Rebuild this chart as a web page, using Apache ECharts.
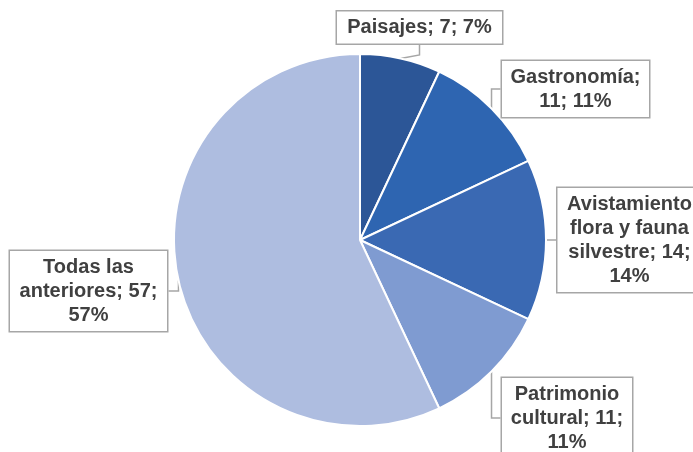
<!DOCTYPE html>
<html>
<head>
<meta charset="utf-8">
<script src="https://cdn.jsdelivr.net/npm/echarts@6/dist/echarts.min.js"></script>
<style>
html,body{margin:0;padding:0;background:#fff;}
#c{width:693px;height:452px;}
</style>
</head>
<body>
<div id="c"></div>
<script>
// Data
const categories = ["Paisajes", "Gastronomía", "Avistamiento\nflora y fauna\nsilvestre", "Patrimonio\ncultural", "Todas las\nanteriores"];
const values = [7, 11, 14, 11, 57];
const colors = ["#2C5697", "#2E65B1", "#3A69B3", "#7F9BD1", "#AEBDE0"];
const labelTemplates = ["{b}; {c}; {d}%", "{b};\n{c}; {d}%", "{b}; {c};\n{d}%", "{b}; {c};\n{d}%", "{b}; {c};\n{d}%"];
// label box centres and inner widths (layout only)
const labelPos = [[419.5, 27.5], [575.5, 89], [629.5, 240], [567, 418], [88.5, 291]];
const labelWidths = [153, 135, 132, 118, 145];

const chart = echarts.init(document.getElementById('c'));
chart.setOption({
  animation: false,
  backgroundColor: '#fff',
  series: [{
    type: 'pie',
    center: [360, 240],
    radius: 186,
    startAngle: 90,
    clockwise: true,
    percentPrecision: 0,
    data: categories.map((n, i) => ({
      name: n, value: values[i],
      itemStyle: { color: colors[i] },
      label: { formatter: labelTemplates[i], width: labelWidths[i] }
    })),
    itemStyle: { borderColor: '#fff', borderWidth: 2 },
    label: {
      show: true,
      position: 'outside',
      overflow: 'none',
      fontFamily: 'Liberation Sans, Arial, sans-serif',
      fontWeight: 'bold',
      fontSize: 20,
      lineHeight: 24,
      color: '#404040',
      align: 'center',
      backgroundColor: '#fff',
      borderColor: '#A6A6A6',
      borderWidth: 1.5,
      padding: [4, 6]
    },
    labelLine: {
      show: true,
      length: 10,
      length2: 10,
      lineStyle: { color: '#A6A6A6', width: 1.5 }
    },
    labelLayout: function (p) {
      const pos = labelPos[p.dataIndex];
      return { x: pos[0], y: pos[1], align: 'center', verticalAlign: 'middle' };
    },
    emphasis: { disabled: true }
  }]
});
</script>
</body>
</html>
